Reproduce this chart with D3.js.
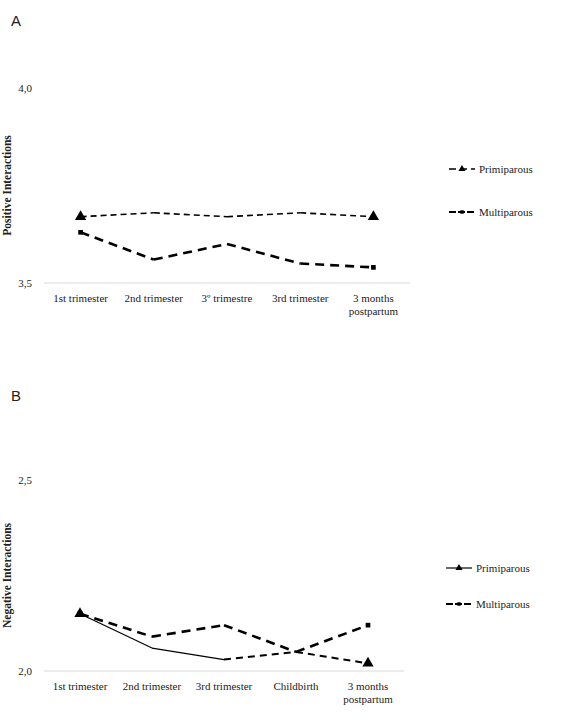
<!DOCTYPE html>
<html lang="en">
<head>
<meta charset="UTF-8">
<title>Positive and Negative Interactions</title>
<script src="https://cdnjs.cloudflare.com/ajax/libs/d3/7.8.5/d3.min.js"></script>
<style>
  body { margin: 0; background: #fff; }
  svg text { font-family: "Liberation Serif", "Times New Roman", serif; fill: #222; }
  .panel-letter { font-family: "Liberation Sans", Arial, sans-serif !important; }
</style>
</head>
<body>
<div id="chart"></div>
<script>
// Panel A data
const catsA = ["1st trimester", "2nd trimester", "3º trimestre", "3rd trimester", "3 months|postpartum"];
const primiA = [3.67, 3.68, 3.67, 3.68, 3.67];
const multiA = [3.63, 3.56, 3.60, 3.55, 3.54];
const ticksA = [3.5, 4.0];

// Panel B data
const catsB = ["1st trimester", "2nd trimester", "3rd trimester", "Childbirth", "3 months|postpartum"];
const primiB = [2.15, 2.06, 2.03, 2.05, 2.02];
const multiB = [2.15, 2.09, 2.12, 2.05, 2.12];
const ticksB = [2.0, 2.5];

const svg = d3.select("#chart").append("svg")
  .attr("width", 567).attr("height", 728);

const fmt = d => d.toFixed(1).replace(".", ",");

function panel(o) {
  const g = svg.append("g");
  const x = d3.scalePoint().domain(o.cats).range([o.x0, o.x1]).padding(0.5);
  const y = d3.scaleLinear().domain(o.domain).range([o.yb, o.yt]);

  g.append("text").attr("class", "panel-letter")
    .attr("x", 11).attr("y", o.letterY)
    .attr("font-size", 15).text(o.letter);

  // baseline axis
  g.append("line")
    .attr("x1", o.x0).attr("x2", o.x1)
    .attr("y1", y(o.domain[0])).attr("y2", y(o.domain[0]))
    .attr("stroke", "#d9d9d9").attr("stroke-width", 1);

  // y tick labels
  g.selectAll(".yt").data(o.ticks).enter().append("text")
    .attr("x", 32).attr("y", d => y(d) + 4)
    .attr("text-anchor", "end").attr("font-size", 11)
    .text(fmt);

  // y title
  g.append("text")
    .attr("transform", `translate(11,${(y(o.domain[0]) + y(o.domain[1])) / 2}) rotate(-90)`)
    .attr("text-anchor", "middle").attr("font-size", 11.5).attr("font-weight", 700)
    .text(o.title);

  // category labels
  o.cats.forEach(c => {
    const t = g.append("text").attr("x", x(c)).attr("y", y(o.domain[0]) + 19)
      .attr("text-anchor", "middle").attr("font-size", 11);
    c.split("|").forEach((s, i) => {
      t.append("tspan").attr("x", x(c)).attr("dy", i ? 13 : 0).text(s);
    });
  });

  // series
  o.series.forEach(s => {
    const pts = s.values.map((v, i) => [x(o.cats[i]), y(v)]);
    for (let i = 0; i < pts.length - 1; i++) {
      const st = s.segStyle(i);
      g.append("path")
        .attr("d", d3.line()([pts[i], pts[i + 1]]))
        .attr("fill", "none").attr("stroke", "#000")
        .attr("stroke-width", st.w)
        .attr("stroke-dasharray", st.dash);
    }
    [0, pts.length - 1].forEach(i => {
      g.append("path")
        .attr("transform", `translate(${pts[i][0]},${pts[i][1]})`)
        .attr("d", d3.symbol(s.symbol, s.symbol === d3.symbolTriangle ? 55 : 22)())
        .attr("fill", "#000");
    });
  });

  // legend
  o.series.forEach((s, k) => {
    const ly = o.legendY[k];
    const st = s.legendStyle;
    g.append("line").attr("x1", o.legendX).attr("x2", o.legendX + 26)
      .attr("y1", ly).attr("y2", ly)
      .attr("stroke", "#000").attr("stroke-width", st.w)
      .attr("stroke-dasharray", st.dash);
    g.append("path")
      .attr("transform", `translate(${o.legendX + 13},${ly})`)
      .attr("d", d3.symbol(s.symbol, s.symbol === d3.symbolTriangle ? 22 : 12)())
      .attr("fill", "#000");
    g.append("text").attr("x", o.legendX + 30).attr("y", ly + 4)
      .attr("font-size", 11).text(s.name);
  });
}

panel({
  letter: "A", letterY: 26,
  cats: catsA, domain: [3.5, 4.0], ticks: ticksA,
  x0: 44, x1: 410, yb: 283, yt: 88,
  title: "Positive Interactions",
  legendX: 449, legendY: [169, 212],
  series: [
    { name: "Primiparous", values: primiA, symbol: d3.symbolTriangle,
      segStyle: () => ({ w: 1.6, dash: "6,4" }), legendStyle: { w: 1.6, dash: "7,4" } },
    { name: "Multiparous", values: multiA, symbol: d3.symbolSquare,
      segStyle: () => ({ w: 2.6, dash: "9,6" }), legendStyle: { w: 2.2, dash: "7,2" } }
  ]
});

panel({
  letter: "B", letterY: 401,
  cats: catsB, domain: [2.0, 2.5], ticks: ticksB,
  x0: 44, x1: 404, yb: 671, yt: 480,
  title: "Negative Interactions",
  legendX: 446, legendY: [568, 604],
  series: [
    { name: "Primiparous", values: primiB, symbol: d3.symbolTriangle,
      segStyle: i => i < 2 ? { w: 1.2, dash: null } : { w: 2, dash: "7,5" },
      legendStyle: { w: 1.2, dash: null } },
    { name: "Multiparous", values: multiB, symbol: d3.symbolSquare,
      segStyle: () => ({ w: 2.6, dash: "9,6" }), legendStyle: { w: 2.2, dash: "7,2" } }
  ]
});
</script>
</body>
</html>
